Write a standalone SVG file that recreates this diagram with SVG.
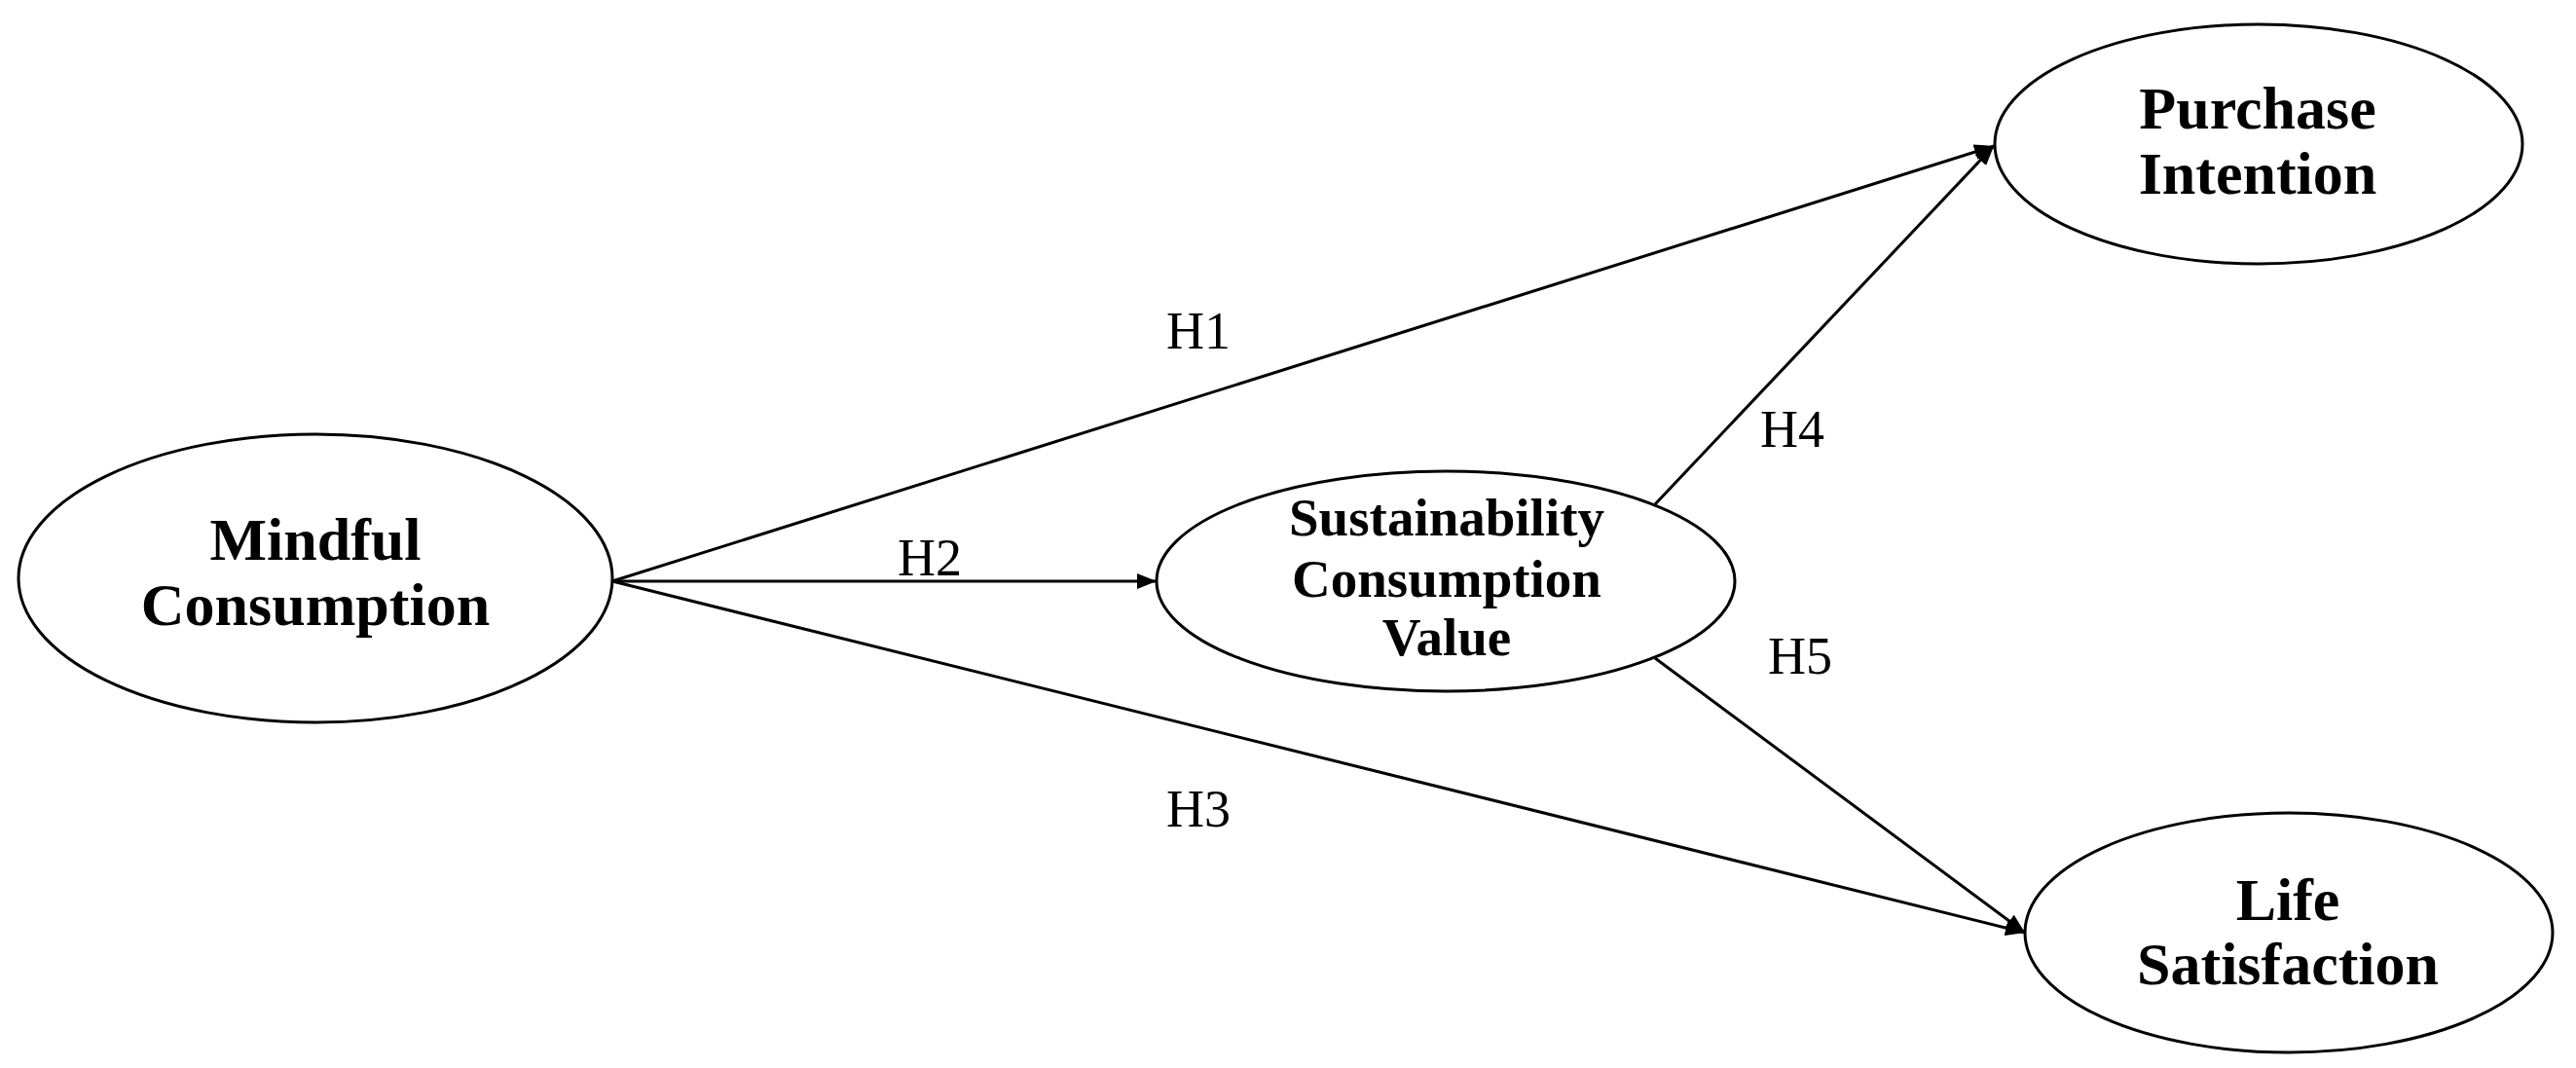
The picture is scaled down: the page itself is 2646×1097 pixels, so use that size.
<svg xmlns="http://www.w3.org/2000/svg" width="2646" height="1097" viewBox="0 0 2646 1097">
<style>
.node{fill:#fff;stroke:#000;stroke-width:3}
.t{font-family:"Liberation Serif","Times New Roman",serif;font-weight:bold;text-anchor:middle;fill:#000}
.big{font-size:62px}
.mid{font-size:55px}
.lbl{font-family:"Liberation Serif","Times New Roman",serif;font-size:54px;text-anchor:middle;fill:#000}
.edge{stroke:#000;stroke-width:3;fill:none;marker-end:url(#arr)}
</style>
<defs>
<marker id="arr" viewBox="0 0 20 16" refX="20" refY="8" markerWidth="20" markerHeight="16" markerUnits="userSpaceOnUse" orient="auto">
<path d="M0,0 L20,8 L0,16 Z" fill="#000"/>
</marker>
</defs>
<rect width="2646" height="1097" fill="#fff"/>
<g id="connectors">
<line class="edge" x1="629" y1="597" x2="2048" y2="150"/>
<line class="edge" x1="629" y1="597" x2="1188" y2="597"/>
<line class="edge" x1="629" y1="597" x2="2080" y2="958"/>
<line class="edge" x1="1700" y1="518" x2="2048" y2="150"/>
<line class="edge" x1="1700" y1="676" x2="2080" y2="958"/>
<text class="lbl" x="1231" y="358">H1</text>
<text class="lbl" x="955" y="591">H2</text>
<text class="lbl" x="1231" y="849">H3</text>
<text class="lbl" x="1841" y="459">H4</text>
<text class="lbl" x="1849" y="692">H5</text>
</g>
<g id="mindful">
<ellipse class="node" cx="324" cy="594" rx="305" ry="148"/>
<text class="t big" x="324" y="575">Mindful</text>
<text class="t big" x="324" y="642">Consumption</text>
</g>
<g id="scv">
<ellipse class="node" cx="1485" cy="597" rx="297" ry="113"/>
<text class="t mid" x="1486" y="550">Sustainability</text>
<text class="t mid" x="1486" y="613">Consumption</text>
<text class="t mid" x="1486" y="673">Value</text>
</g>
<g id="purchase">
<ellipse class="node" cx="2320" cy="148" rx="271" ry="123"/>
<text class="t big" x="2319" y="132">Purchase</text>
<text class="t big" x="2319" y="199">Intention</text>
</g>
<g id="life">
<ellipse class="node" cx="2351" cy="958" rx="271" ry="123"/>
<text class="t big" x="2350" y="945">Life</text>
<text class="t big" x="2350" y="1011">Satisfaction</text>
</g>
</svg>
